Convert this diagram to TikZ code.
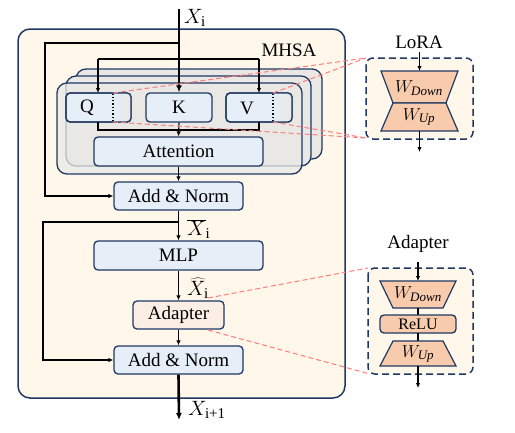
\documentclass[tikz,border=0pt]{standalone}
\usepackage{fontspec}
\setmainfont{Liberation Serif}
\usetikzlibrary{arrows.meta,calc}
\definecolor{navy}{HTML}{1F3864}
\definecolor{boxblue}{HTML}{E6EEF8}
\definecolor{cream}{HTML}{FFF8EA}
\definecolor{layergray}{HTML}{E9E8E5}
\definecolor{peach}{HTML}{F8CBAD}
\definecolor{lightpeach}{HTML}{FBEEE4}
\definecolor{dashred}{HTML}{FF7B7B}
\newcommand{\mysub}[2]{\hbox{\fontsize{#1}{#1}\selectfont #2}}
\tikzset{
  bluebox/.style={draw=navy,fill=boxblue,rounded corners=4pt,line width=1.3pt,inner sep=0pt,font=\fontsize{19}{21}\selectfont},
  arr/.style={-{Latex[length=5pt,width=4.5pt]},line width=1.1pt},
  thickarr/.style={-{Latex[length=7pt,width=6pt]},line width=2.6pt},
  layer/.style={draw=navy,fill=layergray,rounded corners=10pt,line width=1.3pt},
  reddash/.style={draw=dashred,dashed,dash pattern=on 5pt off 3pt,line width=1pt},
  panel/.style={draw=navy,fill=cream,rounded corners=7pt,line width=1.5pt,dash pattern=on 7pt off 4pt},
  trap/.style={draw=navy,fill=peach,line width=1.2pt},
  lbl/.style={font=\fontsize{19}{21}\selectfont,inner sep=0pt},
  mlbl/.style={font=\fontsize{21}{23}\selectfont,inner sep=0pt},
  wlbl/.style={font=\fontsize{18}{20}\selectfont,inner sep=0pt}
}
\begin{document}
\begin{tikzpicture}[x=1pt,y=-1pt]
\useasboundingbox (0,0) rectangle (515,432);
% outer block
\draw[draw=navy,fill=cream,rounded corners=12pt,line width=1.5pt] (18,29) rectangle (345,398);
% MHSA layers
\draw[layer] (76,69) rectangle (322,159);
\draw[layer] (66,76) rectangle (311,166);
\draw[layer,fill opacity=0.75] (57,83) rectangle (302,174);
\node[lbl] (mhsa) at (289,50) {MHSA};
% Q K V
\node[bluebox,minimum width=65pt,minimum height=29pt] (q) at (98.5,107.5) {};
\begin{scope}
  \clip[rounded corners=4pt] (66,93) rectangle (131,122);
  \shade[left color=boxblue,right color=layergray] (113,93) rectangle (131,122);
\end{scope}
\draw[navy,line width=1.3pt,rounded corners=4pt] (66,93) rectangle (131,122);
\node[lbl] at (87,108) {Q};
\draw[line width=1.3pt,dotted] (113,93.5) -- (113,121.5);
\node[bluebox,minimum width=66pt,minimum height=29pt] (k) at (179,107.5) {K};
\node[bluebox,minimum width=66pt,minimum height=29pt] (v) at (259,107.5) {};
\begin{scope}
  \clip[rounded corners=4pt] (226,93) rectangle (292,122);
  \shade[left color=boxblue,right color=layergray] (273,93) rectangle (292,122);
\end{scope}
\draw[navy,line width=1.3pt,rounded corners=4pt] (226,93) rectangle (292,122);
\node[lbl] at (247,108) {V};
\draw[line width=1.3pt,dotted] (273,93.5) -- (273,121.5);
\node[bluebox,minimum width=169pt,minimum height=29pt] (att) at (178.5,151.5) {Attention};
\node[bluebox,minimum width=129pt,minimum height=28pt] (add1) at (178.5,196) {Add \& Norm};
\node[bluebox,minimum width=169pt,minimum height=29pt] (mlp) at (178.5,255.5) {MLP};
\node[bluebox,fill=lightpeach,minimum width=91pt,minimum height=28pt] (adp) at (178.5,315) {Adapter};
\node[bluebox,minimum width=129pt,minimum height=28pt] (add2) at (178.5,360) {Add \& Norm};
% input
\coordinate (xin) at (179,9);
\coordinate (j1) at (179,43);
\coordinate (j2) at (179,59);
\draw[thickarr] (xin) -- (k.north);
\node[mlbl,anchor=west] (xilbl) at (184,18) {$X_{\mysub{15}{i}}$};
\draw[arr] (j1) -- (45,43) |- (add1.west);
\draw[line width=1.1pt] (98,59) -- (259,59);
\draw[arr] (98,59) -- (98,93);
\draw[arr] (259,59) -- (259,93);
% QKV to attention
\draw[line width=1.1pt] (98,122) -- (98,130) -- (259,130) -- (259,122);
\draw[arr] (k.south) -- (att.north);
\draw[arr] (att.south) -- (add1.north);
\coordinate (j3) at (179,222);
\draw[arr] (add1.south) -- (mlp.north);
\draw[arr] (j3) -- (43,222) |- (add2.west);
\node[mlbl,anchor=west] (xbar) at (187,229) {$\overline{X}_{\mysub{15}{i}}$};
\draw[arr] (mlp.south) -- (adp.north);
\node[mlbl,anchor=west] (xhat) at (187,288) {$\widehat{X}_{\mysub{15}{i}}$};
\draw[arr] (adp.south) -- (add2.north);
\coordinate (xout) at (179,420);
\draw[thickarr] (add2.south) -- (xout);
\node[mlbl,anchor=west] (xo) at (188,410) {$X_{\mysub{15}{i+1}}$};
% LoRA panel
\node[lbl] (loralbl) at (419,42) {LoRA};
\draw[panel] (366,58) rectangle (473,139);
\coordinate (lp) at (366,58);
\coordinate (lq) at (366,138);
\draw[trap] (381,71) -- (458,71) -- (446,103) -- (393,103) -- cycle;
\draw[trap] (393,103) -- (446,103) -- (458,131) -- (381,131) -- cycle;
\node[wlbl] (wd1) at (419,88) {$W_{\mysub{13}{\itshape Down}}$};
\node[wlbl] (wu1) at (419,117) {$W_{\mysub{13}{\itshape Up}}$};
\draw[arr] (419.5,52) -- (419.5,71);
\draw[arr] (419.5,131) -- (419.5,152);
% Adapter panel
\node[lbl] (adplbl) at (418,244) {Adapter};
\draw[panel] (368,268) rectangle (473,374);
\draw[trap] (380,281) -- (456,281) -- (443,308) -- (393,308) -- cycle;
\node[wlbl] (wd2) at (418,294) {$W_{\mysub{13}{\itshape Down}}$};
\draw[line width=1.1pt] (418,308) -- (418,315);
\node[bluebox,fill=peach,minimum width=76pt,minimum height=18pt,font=\fontsize{16}{18}\selectfont] (relu) at (418,324) {ReLU};
\draw[line width=1.1pt] (418,333) -- (418,341);
\draw[trap] (393,341) -- (443,341) -- (456,366) -- (380,366) -- cycle;
\node[wlbl] (wu2) at (418,354) {$W_{\mysub{13}{\itshape Up}}$};
\draw[arr] (418,262) -- (418,281);
\draw[arr] (418,366) -- (418,388);
% red dashed lines
\draw[reddash] (113,93) -- (lp);
\draw[reddash] (273,93) -- (lp);
\draw[reddash] (113,122) -- (lq);
\draw[reddash] (273,122) -- (lq);
\draw[reddash] (208,298) -- (368,268);
\draw[reddash] (208,330) -- (370,374);
\end{tikzpicture}
\end{document}
